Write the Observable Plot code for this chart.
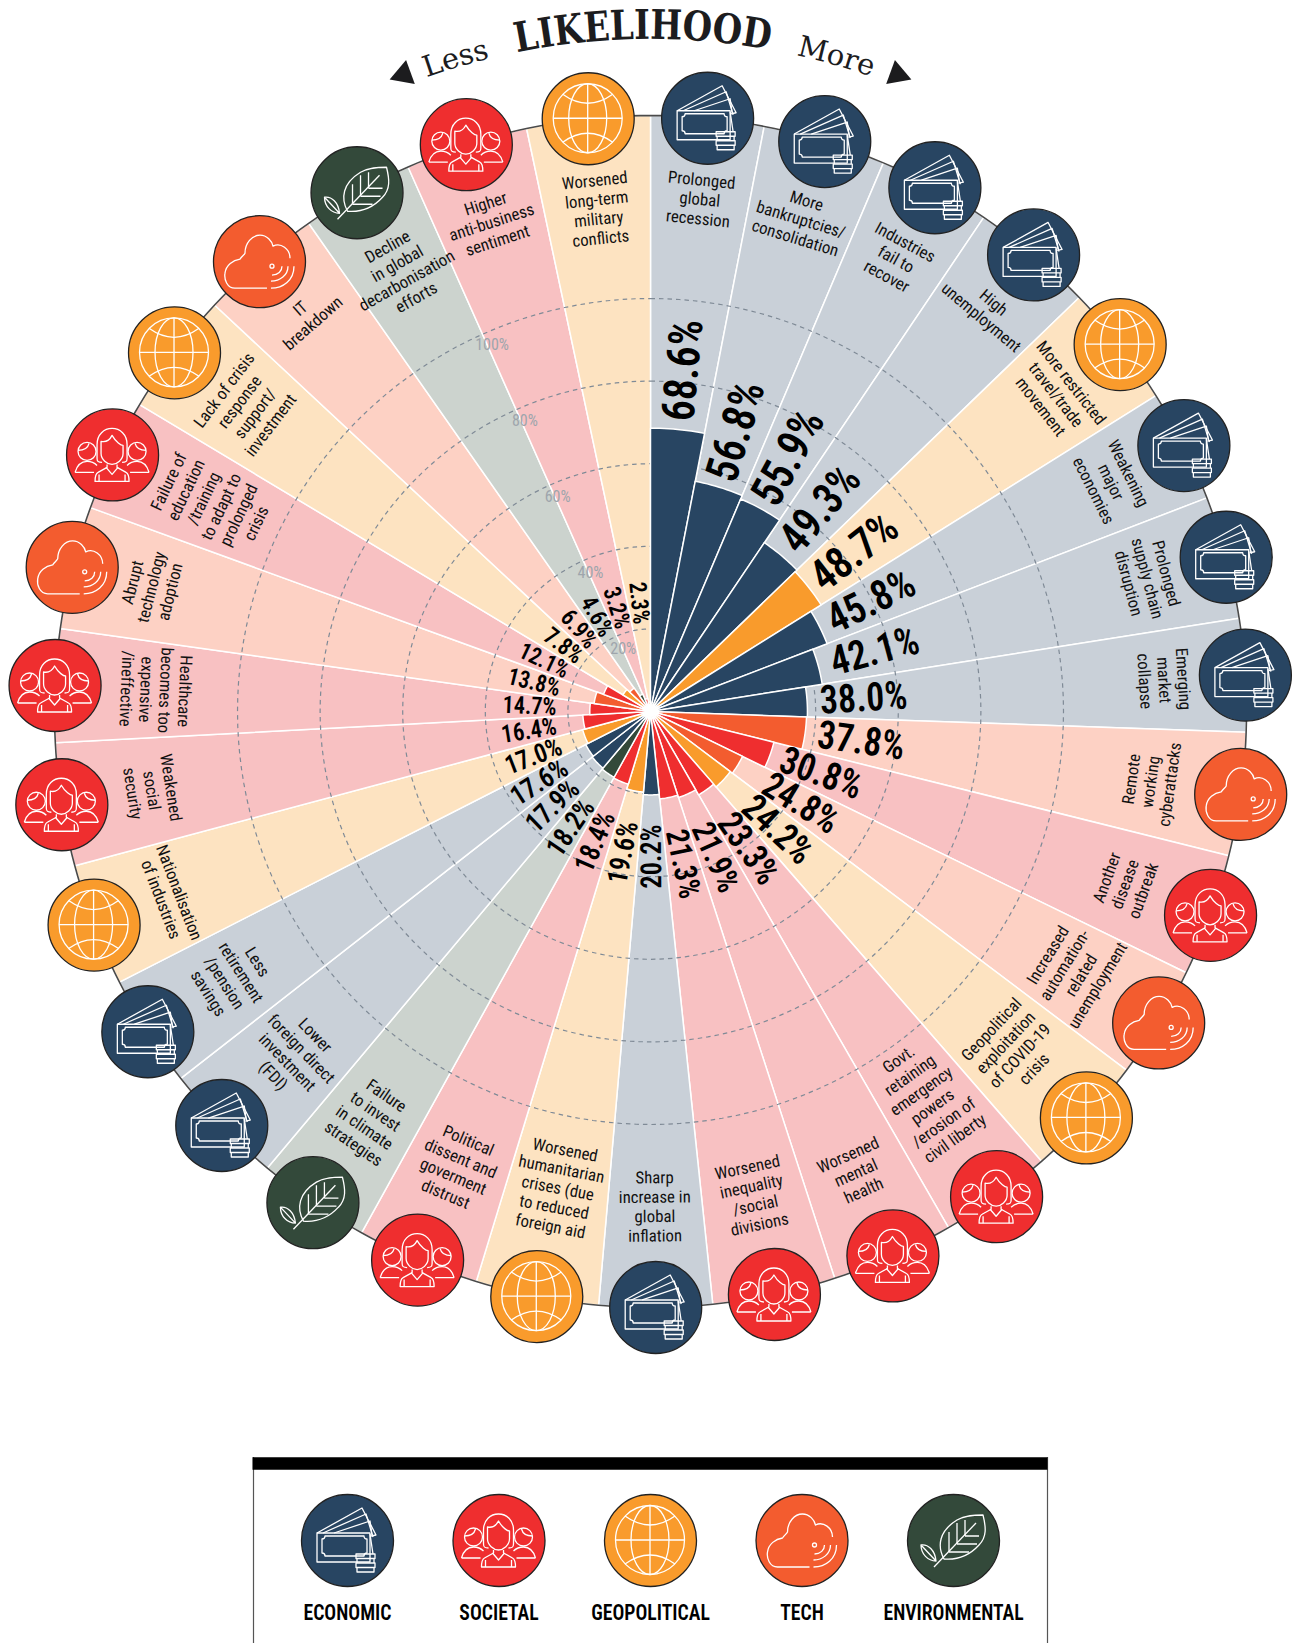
<!DOCTYPE html>
<html><head><meta charset="utf-8">
<script src="https://cdn.jsdelivr.net/npm/d3@7"></script>
<script src="https://cdn.jsdelivr.net/npm/@observablehq/plot@0.6"></script>
<style>html,body{margin:0;padding:0;background:#fff}svg{display:block}</style>
</head><body><div id="chart"></div>
<script>
const riskLabels = ["Prolonged\nglobal\nrecession","More\nbankruptcies/\nconsolidation","Industries\nfail to\nrecover","High\nunemployment","More restricted\ntravel/trade\nmovement","Weakening\nmajor\neconomies","Prolonged\nsupply chain\ndisruption","Emerging\nmarket\ncollapse","Remote\nworking\ncyberattacks","Another\ndisease\noutbreak","Increased\nautomation-\nrelated\nunemployment","Geopolitical\nexploitation\nof COVID-19\ncrisis","Govt.\nretaining\nemergency\npowers\n/erosion of\ncivil liberty","Worsened\nmental\nhealth","Worsened\ninequality\n/social\ndivisions","Sharp\nincrease in\nglobal\ninflation","Worsened\nhumanitarian\ncrises (due\nto reduced\nforeign aid","Political\ndissent and\ngoverment\ndistrust","Failure\nto invest\nin climate\nstrategies","Lower\nforeign direct\ninvestment\n(FDI)","Less\nretirement\n/pension\nsavings","Nationalisation\nof industries","Weakened\nsocial\nsecurity","Healthcare\nbecomes too\nexpensive\n/ineffective","Abrupt\ntechnology\nadoption","Failure of\neducation\n/training\nto adapt to\nprolonged\ncrisis","Lack of crisis\nresponse\nsupport/\ninvestment","IT\nbreakdown","Decline\nin global\ndecarbonisation\nefforts","Higher\nanti-business\nsentiment","Worsened\nlong-term\nmilitary\nconflicts"];
const riskValues = [68.6,56.8,55.9,49.3,48.7,45.8,42.1,38.0,37.8,30.8,24.8,24.2,23.3,21.9,21.3,20.2,19.6,18.4,18.2,17.9,17.6,17.0,16.4,14.7,13.8,12.1,7.8,6.9,4.6,3.2,2.3];
const riskCategories = ["ECONOMIC","ECONOMIC","ECONOMIC","ECONOMIC","GEOPOLITICAL","ECONOMIC","ECONOMIC","ECONOMIC","TECH","SOCIETAL","TECH","GEOPOLITICAL","SOCIETAL","SOCIETAL","SOCIETAL","ECONOMIC","GEOPOLITICAL","SOCIETAL","ENVIRONMENTAL","ECONOMIC","ECONOMIC","GEOPOLITICAL","SOCIETAL","SOCIETAL","TECH","SOCIETAL","GEOPOLITICAL","TECH","ENVIRONMENTAL","SOCIETAL","GEOPOLITICAL"];
const sliceEdges = [0,11,23,34,46,58,69,81,92,104,116,127,139,150,162,174,185,197,209,220,232,243,255,267,278,290,301,313,325,336,348,360];
const legendCategories = ["ECONOMIC","SOCIETAL","GEOPOLITICAL","TECH","ENVIRONMENTAL"];
const ringTicks = [20,40,60,80,100];

const barColor = {ECONOMIC:"#284562",SOCIETAL:"#ef2e2f",GEOPOLITICAL:"#f99b2c",TECH:"#f35c2f",ENVIRONMENTAL:"#33493a"};
const backColor = {ECONOMIC:"#c9d0d8",SOCIETAL:"#f8c1c2",GEOPOLITICAL:"#fde3c1",TECH:"#fdd1c4",ENVIRONMENTAL:"#ccd3ce"};

const W = 1298, H = 1643, cx = 650, cy = 711, k = 4.13; // k: px per percentage point
const rimR = 596/k;
const rad = a => a*Math.PI/180;
const polar = (r,az) => [r*Math.sin(rad(az)), r*Math.cos(rad(az))];
const risks = riskValues.map((value,i)=>{
  const az=(sliceEdges[i]+sliceEdges[i+1])/2;
  return {i,value,label:riskLabels[i],cat:riskCategories[i],az,pos:polar(rimR,az)};
});

function wedge(i,r,fill){
  const a=sliceEdges[i],b=sliceEdges[i+1],rows=[{id:i,x:0,y:0,fill}];
  for(let s=0;s<=12;s++){const [x,y]=polar(r,a+(b-a)*s/12);rows.push({id:i,x,y,fill});}
  rows.push({id:i,x:0,y:0,fill});
  return rows;
}
const backRows = risks.flatMap(d=>wedge(d.i,rimR,backColor[d.cat]));
const barRows = risks.flatMap(d=>wedge(d.i,d.value,barColor[d.cat]));
const ringRows = t => d3.range(0,361,2).map(a=>{const [x,y]=polar(t,a);return {t,x,y};});

// layout of the value labels, px from the centre, by value
const startR = d3.scaleLinear().domain([21.3,24.8,30.8,37.8,42.1,45.8,48.7,49.3,55.9,56.8,68.6]).range([121,135,139,169,187,200,210,215,238,242,292]);
const endR = d3.scaleLinear().domain([2.3,7.8,12.1,14.7,17,17.6,17.9,18.2,20.2]).range([88,88,92,94,96,101,105,110,113]);
const valueFont = d3.scaleLinear().domain([2.3,7.8,12,16.4,17.6,20,21.5,24,31,38,46,50,56,68.6]).range([24,24,23.5,25,28,28.5,32,37,38.5,39.5,42,45,46,46]);
const fmt = d => d.value.toFixed(1)+"%";
const right = risks.filter(d=>d.i<15), left = risks.filter(d=>d.i>=15);

const inward = d => d.az>95 && d.az<275;
const outLabels = risks.filter(d=>!inward(d)), inLabels = risks.filter(inward);
const narrow = "'Liberation Sans Narrow','Roboto Condensed','DejaVu Sans Condensed',sans-serif";

const legend = legendCategories.map((cat,i)=>({cat,x:(i-2)*151.5/k,y:(cy-1540)/k,ly:(cy-1612)/k}));

const icons = {
 ECONOMIC:["M-30-7H23V22H-30Z","M-25-1Q-22-1-22-4H17Q17-1 20-1V13Q17 13 17 16H-22Q-22 13-25 13Z","M-30-7L15-32L29-5L24-4","M-24-7L19-26L26-3","M-13-7L23-19L25-5","M23-6L26 14","M9 14H28V18.5H9ZM10 18.5H27V23H10ZM9 23H28V27.5H9ZM10 27.5H27V32H10Z"],
 SOCIETAL:["M-10 8C-14 8-15 7-15 4V-10C-15-20-8-26 0-26C8-26 15-20 15-10V4C15 7 14 8 10 8","M-11-13C-6-12-2-15 0-19C4-12 9-9 11-9V-1C11 5 5 10 0 10C-5 10-11 5-11-1Z","M-5 10V13L-14 18C-16 19-17 22-17 27H17C17 22 16 19 14 18L5 13V10","M-6 13L0 20L6 13","M-13 20V27M13 20V27",
  "M-34-3A9 9 0 1 0-16-3A9 9 0 1 0-34-3Z","M-34-4C-28-4-24-7-23-11","M16-3A9 9 0 1 0 34-3A9 9 0 1 0 16-3Z","M34-4C28-4 24-7 23-11","M-37 18C-35 11-31 7-25 7C-21 7-18 8-15 11M-37 18H-18","M37 18C35 11 31 7 25 7C21 7 18 8 15 11M37 18H18"],
 GEOPOLITICAL:["M-34.5 0A34.5 34.5 0 1 0 34.5 0A34.5 34.5 0 1 0-34.5 0Z","M-19 0A19 34.5 0 1 0 19 0A19 34.5 0 1 0-19 0Z","M0-34.5V34.5M-34.5 0H34.5","M-25-24Q0-6 25-24","M-25 24Q0 6 25 24"],
 TECH:["M8 27H-24C-32 27-35 18-34 12C-33 4-26-1-19-2C-17-5-15-6-14-8C-14-18-7-26 1-26C8-26 13-20 14-15C22-19 31-12 31-3","M15 5A2 2 0 1 0 11 5A2 2 0 1 0 15 5Z","M13 14C19 14 23 10 23 5","M12 20C21 20 29 14 29 5","M12 27C24 27 35 19 35 5"],
 ENVIRONMENTAL:["M-9 19C-16 6-14-9 4-20C12-25 22-25 30-25C33-13 34-3 26 5C16 16 3 20-9 19Z","M-19 27L23-17","M-4 12V-8M4 4V-17M12-4V-20M-4 12H16M4 4H24M12-4H26","M-32 5C-25 4-18 10-17 21C-25 21-32 14-32 5ZM-32 5L-17 21"]
};
const iconMark = (index,{x,y})=>{
  const g=d3.create("svg:g").attr("fill","none").attr("stroke","#fff").attr("stroke-width",1.3).attr("stroke-linejoin","round");
  for(const d of [...risks.map(r=>({cat:r.cat,x:r.pos[0],y:r.pos[1]})),...legend]){
    const p=g.append("g").attr("transform",`translate(${x(d.x)},${y(d.y)})`);
    for(const s of icons[d.cat]) p.append("path").attr("d",s);
  }
  return g.node();
};
const titleMark = (index,{x,y})=>{
  const X=x(0),Y=y(0),R=672;
  const g=d3.create("svg:g").attr("fill","#1c1c1e").attr("text-anchor","middle");
  g.append("path").attr("id","arc").attr("fill","none").attr("d",`M${X-R} ${Y}A${R} ${R} 0 0 1 ${X+R} ${Y}`);
  const put=(s,az,size,weight,len)=>{
    const t=g.append("text").attr("font-family","'DejaVu Serif',serif").attr("font-size",size).attr("font-weight",weight);
    if(len) t.attr("textLength",len).attr("lengthAdjust","spacingAndGlyphs");
    t.append("textPath").attr("href","#arc").attr("startOffset",(50+az/180*100)+"%").text(s);
  };
  put("LIKELIHOOD",-0.6,41,700,254);
  put("Less",-16.6,29,400);
  put("More",15.9,29,400);
  return g.node();
};

const chart = Plot.plot({
  width:W,height:H,margin:0,
  x:{domain:[-cx/k,(W-cx)/k],axis:null},
  y:{domain:[(cy-H)/k,cy/k],axis:null},
  color:{type:"identity"},
  style:{background:"#fff",fontFamily:narrow},
  marks:[
    Plot.line(backRows,{x:"x",y:"y",z:"id",fill:"fill",stroke:"#fff",strokeWidth:1.5,curve:"linear"}),
    ringTicks.map(t=>Plot.line(ringRows(t),{x:"x",y:"y",stroke:"#7f8a96",strokeWidth:1.2,strokeDasharray:"4.5 4",strokeLinecap:"butt",curve:"linear"})),
    Plot.text(ringTicks,{x:t=>polar(t-3.4,-23.4)[0],y:t=>polar(t-3.4,-23.4)[1],text:t=>t+"%",fill:"#9ea5ac",fontSize:16}),
    Plot.line(barRows,{x:"x",y:"y",z:"id",fill:"fill",stroke:"#fff",strokeWidth:1.5,curve:"linear"}),
    Plot.line(d3.range(0,361,1).map(a=>polar(rimR,a)),{stroke:"#4a4a4a",strokeWidth:1.6,curve:"linear"}),
    Plot.dot([0],{x:0,y:0,r:5,fill:"#fff",stroke:null}),
    Plot.text(outLabels,{x:d=>polar(542/k,d.az)[0],y:d=>polar(542/k,d.az)[1],text:"label",rotate:d=>d.az,lineAnchor:"top",lineHeight:1.155,fontSize:16.8,fill:"#111"}),
    Plot.text(inLabels,{x:d=>polar(530/k,d.az)[0],y:d=>polar(530/k,d.az)[1],text:"label",rotate:d=>d.az-180,lineAnchor:"bottom",lineHeight:1.155,fontSize:16.8,fill:"#111"}),
    Plot.text(right,{x:d=>polar(startR(d.value)/k,d.az)[0],y:d=>polar(startR(d.value)/k,d.az)[1],text:fmt,rotate:d=>d.az-90,textAnchor:"start",fontSize:d=>valueFont(d.value),fontWeight:600,fill:"#000"}),
    Plot.text(left,{x:d=>polar(endR(d.value)/k,d.az)[0],y:d=>polar(endR(d.value)/k,d.az)[1],text:fmt,rotate:d=>d.az+90,textAnchor:"end",fontSize:d=>valueFont(d.value),fontWeight:600,fill:"#000"}),
    Plot.dot(risks,{x:d=>d.pos[0],y:d=>d.pos[1],r:46,fill:d=>barColor[d.cat],stroke:"#222",strokeWidth:1.3}),
    Plot.dot(legend,{x:"x",y:"y",r:46,fill:d=>barColor[d.cat],stroke:"#222",strokeWidth:1.3}),
    iconMark,
    titleMark,
    Plot.dot([-1,1],{x:s=>s*247/k,y:(cy-74)/k,symbol:"triangle",r:9.5,fill:"#1c1c1e",stroke:null,rotate:s=>-s*10}),
    Plot.ruleX([-397/k,397/k],{y1:(cy-H)/k,y2:(cy-1457)/k,stroke:"#555",strokeWidth:1.2}),
    Plot.ruleY([(cy-1463)/k],{x1:-397.5/k,x2:397.5/k,stroke:"#000",strokeWidth:12.5}),
    Plot.text(legend,{x:"x",y:"ly",text:"cat",fontSize:22.5,fontWeight:600,fill:"#000"})
  ]
});
document.getElementById("chart").append(chart);
// the reference's bold face is narrower than the installed one: squeeze the glyphs, keep the height
chart.querySelectorAll('g[font-weight="600"] text').forEach(t=>{
  const f = t.textContent.includes("%") ? 0.91 : 0.875;
  t.setAttribute("textLength", t.getComputedTextLength()*f);
  t.setAttribute("lengthAdjust","spacingAndGlyphs");
});
</script></body></html>
